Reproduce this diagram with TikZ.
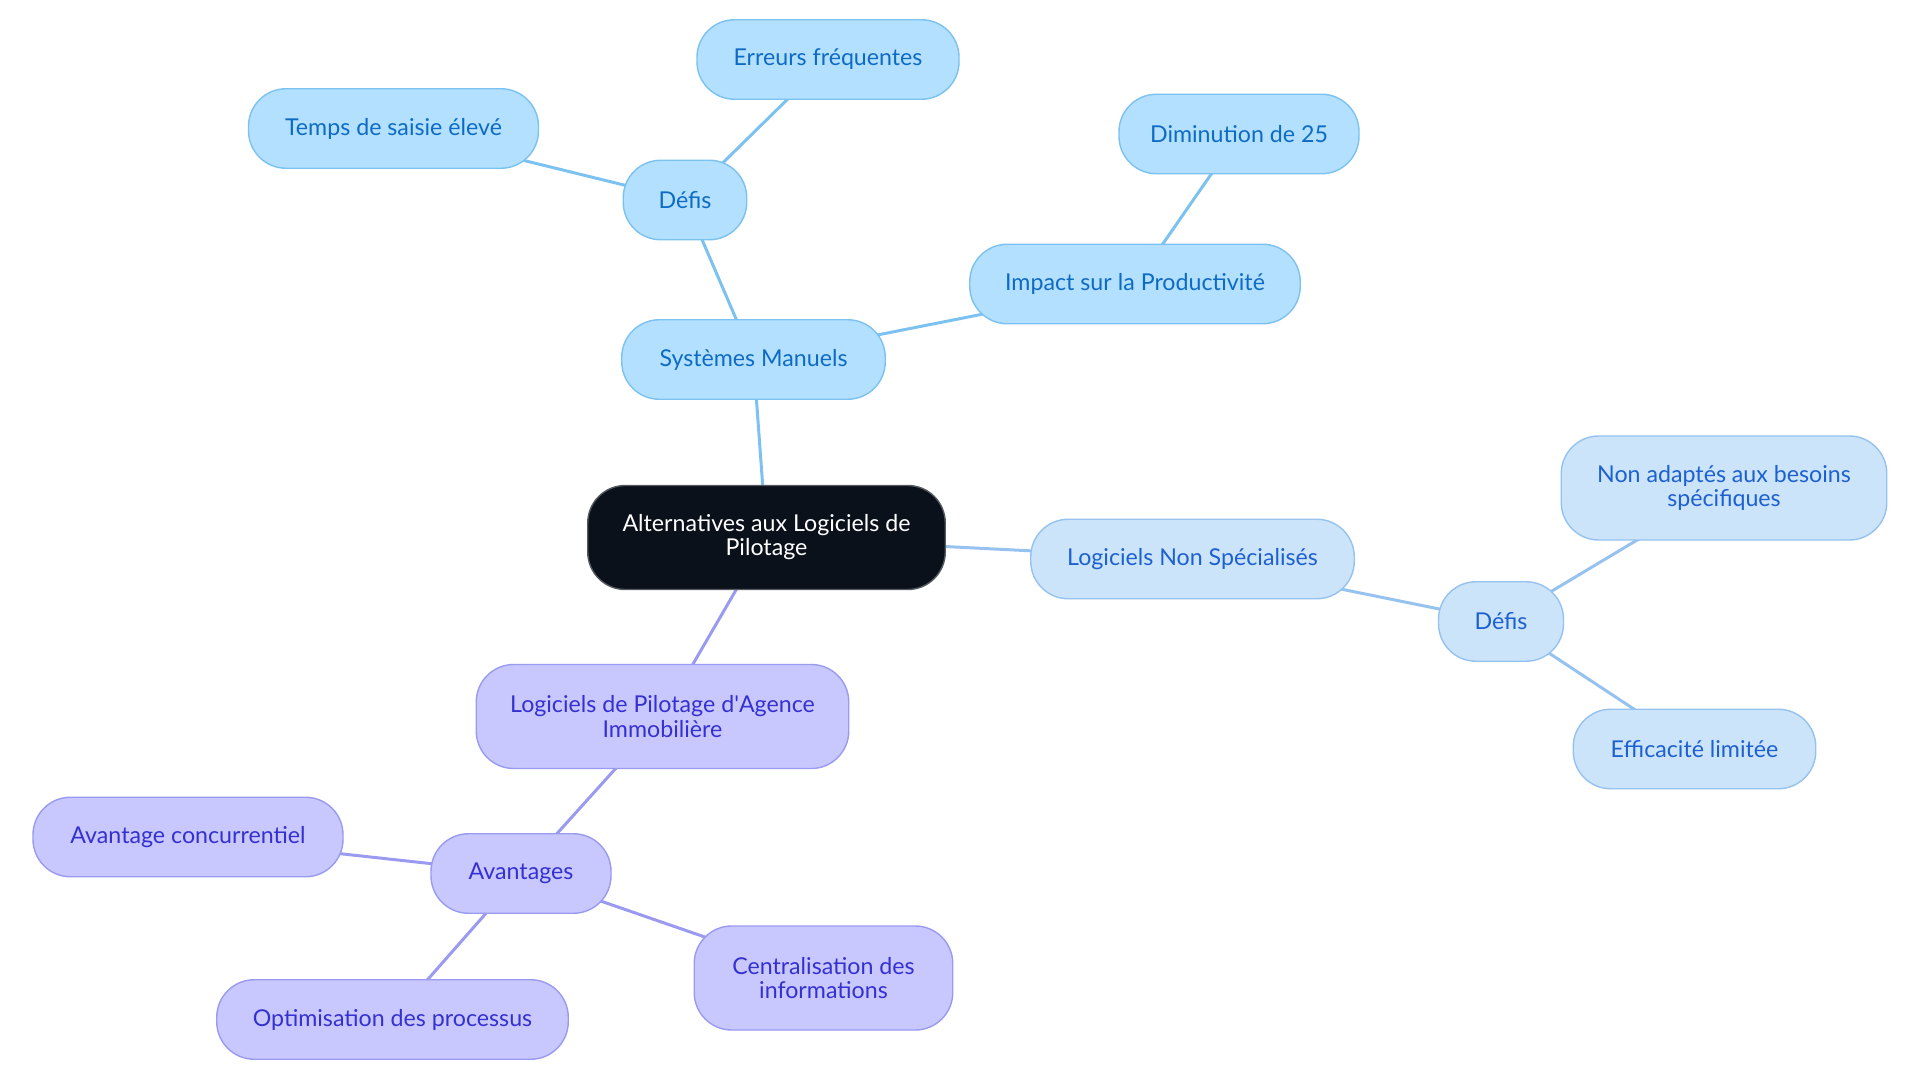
\documentclass[tikz,border=0pt]{standalone}
\usepackage{fontspec}
\setmainfont{Lato}
\usepackage{tikz}
\pgfdeclarelayer{background}
\pgfsetlayers{background,main}

\definecolor{skyfill}{HTML}{B3E0FF}
\definecolor{skyline}{HTML}{7CC2F0}
\definecolor{skytext}{HTML}{0E6BC4}
\definecolor{palefill}{HTML}{CCE4FA}
\definecolor{paleline}{HTML}{96C2F0}
\definecolor{paletext}{HTML}{1D60D0}
\definecolor{lilafill}{HTML}{C8C8FF}
\definecolor{lilaline}{HTML}{9A9AF0}
\definecolor{lilatext}{HTML}{3530D0}
\definecolor{rootfill}{HTML}{0B111B}

\begin{document}
\begin{tikzpicture}[
  every node/.style={font=\fontsize{13.2}{13.7}\selectfont, align=center,
    rounded corners=0.75cm, line width=0.8pt, inner sep=0pt},
  root/.style={fill=rootfill, draw=rootfill!70!white, text=white, minimum height=2.08cm},
  sky/.style={fill=skyfill, draw=skyline, text=skytext, minimum height=1.59cm},
  pale/.style={fill=palefill, draw=paleline, text=paletext, minimum height=1.59cm},
  lila/.style={fill=lilafill, draw=lilaline, text=lilatext, minimum height=1.59cm},
  tall/.style={minimum height=2.08cm},
  link/.style={line width=1.7pt}
]
\useasboundingbox (0,0) rectangle (38.4,-21.66);

\node [root, minimum width=7.15cm] (alt) at (15.33,-10.75) {Alternatives aux Logiciels de\\Pilotage};

\node [sky, minimum width=5.27cm] (sys) at (15.07,-7.19) {Systèmes Manuels};
\node [sky, minimum width=2.47cm] (defis1) at (13.70,-4.00) {Défis};
\node [sky, minimum width=5.80cm] (temps) at (7.87,-2.57) {Temps de saisie élevé};
\node [sky, minimum width=5.24cm] (erreurs) at (16.56,-1.19) {Erreurs fréquentes};
\node [sky, minimum width=6.61cm] (impact) at (22.70,-5.68) {Impact sur la Productivité};
\node [sky, minimum width=4.80cm] (dimin) at (24.78,-2.68) {Diminution de 25};

\node [pale, minimum width=6.47cm] (nonspec) at (23.85,-11.18) {Logiciels Non Spécialisés};
\node [pale, minimum width=2.50cm] (defis2) at (30.02,-12.43) {Défis};
\node [pale, tall, minimum width=6.51cm] (besoins) at (34.48,-9.76) {Non adaptés aux besoins\\spécifiques};
\node [pale, minimum width=4.85cm] (effic) at (33.89,-14.98) {Efficacité limitée};

\node [lila, tall, minimum width=7.45cm] (agence) at (13.25,-14.33) {Logiciels de Pilotage d\textquotesingle Agence\\Immobilière};
\node [lila, minimum width=3.60cm] (avant) at (10.42,-17.47) {Avantages};
\node [lila, minimum width=6.20cm] (concur) at (3.76,-16.74) {Avantage concurrentiel};
\node [lila, minimum width=7.03cm] (optim) at (7.85,-20.39) {Optimisation des processus};
\node [lila, tall, minimum width=5.17cm] (centr) at (16.47,-19.56) {Centralisation des\\informations};

\begin{pgfonlayer}{background}
\draw [link, skyline] (alt.center) -- (sys.center);
\draw [link, skyline] (sys.center) -- (defis1.center);
\draw [link, skyline] (defis1.center) -- (temps.center);
\draw [link, skyline] (defis1.center) -- (erreurs.center);
\draw [link, skyline] (sys.center) -- (impact.center);
\draw [link, skyline] (impact.center) -- (dimin.center);

\draw [link, paleline] (alt.center) -- (nonspec.center);
\draw [link, paleline] (nonspec.center) -- (defis2.center);
\draw [link, paleline] (defis2.center) -- (besoins.center);
\draw [link, paleline] (defis2.center) -- (effic.center);

\draw [link, lilaline] (alt.center) -- (agence.center);
\draw [link, lilaline] (agence.center) -- (avant.center);
\draw [link, lilaline] (avant.center) -- (concur.center);
\draw [link, lilaline] (avant.center) -- (optim.center);
\draw [link, lilaline] (avant.center) -- (centr.center);
\end{pgfonlayer}

\end{tikzpicture}
\end{document}
